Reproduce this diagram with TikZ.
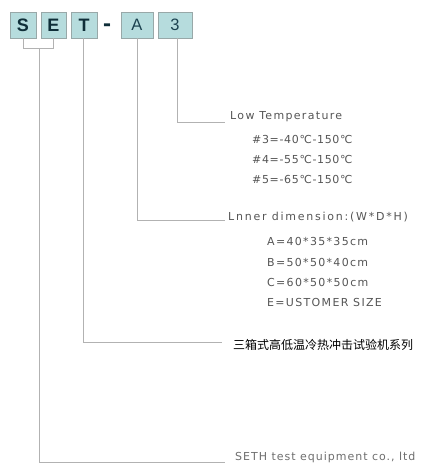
\documentclass[tikz,border=0pt]{standalone}
\usepackage{fontspec}
\setmainfont{DejaVu Sans}
\newfontfamily\labfont[LetterSpace=12]{DejaVu Sans}
\newfontfamily\labfontnarrow[LetterSpace=6]{DejaVu Sans}
\newfontfamily\labfontmid[LetterSpace=9]{DejaVu Sans}
\newfontfamily\labfontwide[LetterSpace=16]{DejaVu Sans}
\newfontfamily\boxfont{Liberation Sans}
\newfontfamily\cjk{Noto Sans CJK SC}
\definecolor{boxfill}{HTML}{B6DCDD}
\definecolor{boxborder}{HTML}{98A8A8}
\definecolor{boxtext}{HTML}{0F2E38}
\definecolor{boxtextb}{HTML}{1C4250}
\definecolor{linegray}{HTML}{B2B2B2}
\definecolor{labgray}{HTML}{555555}
\begin{document}
\begin{tikzpicture}[x=1pt,y=-1pt,
  box/.style={draw=boxborder, fill=boxfill, line width=0.8pt, minimum height=26pt, inner sep=0pt},
  boldletter/.style={text=boxtext, font=\boxfont\bfseries\fontsize{18}{20}\selectfont},
  thinletter/.style={text=boxtextb, font=\boxfont\fontsize{16.5}{18}\selectfont},
  conn/.style={draw=linegray, line width=0.9pt},
  lab/.style={anchor=west, inner sep=0pt, text=labgray, font=\labfont\fontsize{11}{13}\selectfont},
  cjklab/.style={anchor=west, inner sep=0pt, text=black, font=\cjk\fontsize{12}{14}\selectfont}]
\useasboundingbox (0,0) rectangle (423,475);
% code boxes
\node[box, boldletter, minimum width=26pt] (S) at (23,25) {S};
\node[box, boldletter, minimum width=25pt] (E) at (53.5,25) {E};
\node[box, boldletter, minimum width=26pt] (T) at (84,25) {T};
\node[boldletter, font=\boxfont\bfseries\fontsize{24}{26}\selectfont, inner sep=0pt] (dash) at (107,28) {-};
\node[box, thinletter, minimum width=32pt] (A) at (137,25) {A};
\node[box, thinletter, minimum width=34pt] (N3) at (175,25) {3};
% labels
\node[lab] (low) at (230,117) {Low Temperature};
\node[lab, font=\labfontnarrow\fontsize{11}{13}\selectfont] (t3) at (252,139) {\#3=-40℃-150℃};
\node[lab, font=\labfontnarrow\fontsize{11}{13}\selectfont] (t4) at (252,159) {\#4=-55℃-150℃};
\node[lab, font=\labfontnarrow\fontsize{11}{13}\selectfont] (t5) at (252,179) {\#5=-65℃-150℃};
\node[lab, font=\labfontwide\fontsize{11}{13}\selectfont] (inner) at (228,217) {Lnner dimension:(W*D*H)};
\node[lab] (dA) at (267,241) {A=40*35*35cm};
\node[lab] (dB) at (267,262) {B=50*50*40cm};
\node[lab] (dC) at (267,282) {C=60*50*50cm};
\node[lab] (dE) at (267,302) {E=USTOMER SIZE};
\node[cjklab] (series) at (233,345) {三箱式高低温冷热冲击试验机系列};
\node[lab, text=labgray!85, font=\labfontmid\fontsize{11}{13}\selectfont] (seth) at (235,457) {SETH test equipment co., ltd};
% connector end points
\coordinate (k3) at (177,122);
\coordinate (e3) at (225,122);
\coordinate (kA) at (137,220);
\coordinate (eA) at (225,220);
\coordinate (kT) at (83.5,342);
\coordinate (eT) at (222,342);
\coordinate (brS) at (23,48);
\coordinate (brE) at (53.5,48);
\coordinate (mid) at (39,48);
\coordinate (kS) at (39,462);
\coordinate (eS) at (225,462);
% connectors
\draw[conn] (k3 |- N3.south) -- (k3) -- (e3);
\draw[conn] (A.south) -- (kA) -- (eA);
\draw[conn] (kT |- T.south) -- (kT) -- (eT);
\draw[conn] (S.south) -- (brS) -- (brE) -- (E.south);
\draw[conn] (mid) -- (kS) -- (eS);
\end{tikzpicture}
\end{document}
